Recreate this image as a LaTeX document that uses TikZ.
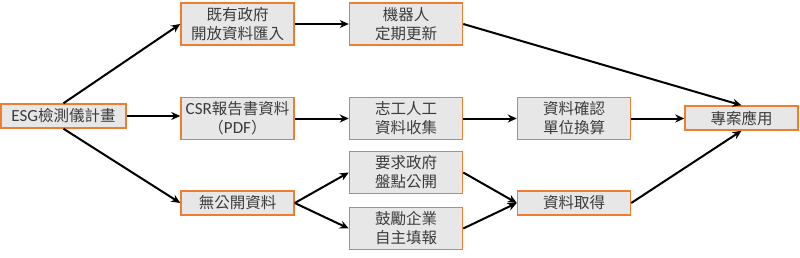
\documentclass[tikz,border=0pt]{standalone}
\usepackage{fontspec}
\newfontfamily\cjk{Noto Sans CJK TC}
\newfontfamily\lat{Carlito}
\usetikzlibrary{arrows.meta}
\definecolor{boxfill}{HTML}{E7E7E7}
\definecolor{boxedge}{HTML}{ED7D31}
\definecolor{txt}{HTML}{3C3C3C}
\tikzset{
  box/.style={draw=boxedge, fill=boxfill, line width=1.5pt, inner sep=0pt,
    minimum width=113pt, align=center, text=txt,
    font=\fontsize{15.5}{19}\selectfont\cjk},
  onebox/.style={box, minimum height=24pt},
  twobox/.style={box, minimum height=42pt},
  arr/.style={line width=2pt, -{Stealth[length=9pt,width=8pt]}}
}
\newcommand\latin[1]{{\lat\fontsize{17}{19}\selectfont #1}}
\begin{document}
\begin{tikzpicture}[x=1pt,y=-1pt]
\useasboundingbox (0,0) rectangle (800,257);
\node[onebox, minimum width=125pt] (esg) at (63.5,116) {\latin{ESG}檢測儀計畫};
\node[twobox] (b2) at (237.5,24) {既有政府\\開放資料匯入};
\node[twobox] (b3) at (406,24) {機器人\\定期更新};
\node[twobox] (csr) at (237.5,118.5) {\latin{CSR}報告書資料\\（\latin{PDF}）};
\node[twobox] (vol) at (406,118.5) {志工人工\\資料收集};
\node[twobox] (conf) at (574,118.5) {資料確認\\單位換算};
\node[onebox] (proj) at (741.5,118) {專案應用};
\node[onebox] (none) at (237.5,203) {無公開資料};
\node[twobox] (req) at (406,172.5) {要求政府\\盤點公開};
\node[twobox] (enc) at (406,228.5) {鼓勵企業\\自主填報};
\node[onebox] (get) at (574,203) {資料取得};

\draw[arr] (esg.north) -- (b2.west);
\draw[arr] (esg.east) -- (csr.west |- esg.east);
\draw[arr] (esg.south) -- (none.west);
\draw[arr] (b2) -- (b3);
\draw[arr] (b3.east) -- (proj.north);
\draw[arr] (csr) -- (vol);
\draw[arr] (vol) -- (conf);
\draw[arr] (conf.east) -- (proj.west |- conf.east);
\draw[arr] (none.east) -- (req.west);
\draw[arr] (none.east) -- (enc.west);
\draw[arr] (req.east) -- (get.west);
\draw[arr] (enc.east) -- (get.west);
\draw[arr] (get.east) -- (proj.south);
\end{tikzpicture}
\end{document}
